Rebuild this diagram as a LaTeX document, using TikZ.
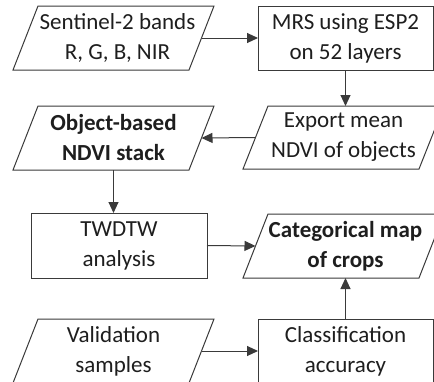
\documentclass[tikz,border=0pt]{standalone}
\usepackage{fontspec}
\setmainfont{Carlito}
\usetikzlibrary{arrows.meta,calc}
\definecolor{txt}{HTML}{1E1E1E}
\definecolor{ln}{HTML}{3A3A3A}
\tikzset{
  blk/.style={align=center, inner sep=0pt, outer sep=0pt, font=\fontsize{23}{30}\selectfont, text=txt},
  bblk/.style={font=\fontsize{23}{30}\selectfont\bfseries},
  rbox/.style={blk, draw=ln, line width=1pt},
  pgram/.style={blk},
  arr/.style={draw=ln, line width=1pt, -{Triangle[length=11pt,width=10pt]}},
  outl/.style={draw=ln, line width=1pt, line join=miter}
}
% outline of a parallelogram around node #2, whose text sits #1 pt right of the shape's centre
\newcommand\slantshape[2][0]{\draw[outl] ($(#2.north west)+(25-#1,0)$) -- ($(#2.north east)+(-#1,0)$) -- ($(#2.south east)+(-25-#1,0)$) -- ($(#2.south west)+(-#1,0)$) -- cycle;}
\begin{document}
\begin{tikzpicture}[x=1pt,y=-1pt]
\useasboundingbox (0,0) rectangle (434,381);
\clip (0,0) rectangle (434,381);
\fill[white] (0,0) rectangle (434,381);
% nodes
\node[pgram, minimum width=201, minimum height=64] (sent) at (117.5,38) {Sentinel-2 bands\\R, G, B, NIR};
\node[rbox, minimum width=175, minimum height=64] (mrs) at (345.5,38) {MRS using ESP2\\on 52 layers};
\node[pgram, minimum width=201, minimum height=63] (export) at (343.5,137.5) {Export mean\\NDVI of objects};
\node[pgram, bblk, minimum width=201, minimum height=64] (obj) at (113.5,138) {Object-based\\NDVI stack};
\node[rbox, minimum width=176, minimum height=65] (twdtw) at (119,245.5) {TWDTW\\analysis};
\node[pgram, bblk, minimum width=201, minimum height=64] (cat) at (345.5,246) {Categorical map\\of crops};
\node[pgram, minimum width=201, minimum height=64] (valid) at (113.5,351) {Validation\\samples};
\node[rbox, minimum width=175, minimum height=65] (class) at (345.5,351.5) {Classification\\accuracy};
% parallelogram outlines
\slantshape[4]{sent}
\slantshape{export}
\slantshape{obj}
\slantshape[2]{cat}
\slantshape{valid}
% connectors
\draw[arr] ($(sent.east)+(-16.5,0)$) -- (mrs.west |- sent.east);
\draw[arr] (mrs.south) -- (mrs.south |- export.north);
\draw[arr] ($(export.west)+(12.5,0)$) -- ($(obj.east)+(-12.5,0)$);
\draw[arr] (obj.south) -- (obj.south |- twdtw.north);
\draw[arr] (twdtw.east) -- ($(cat.west)+(10.5,0)$);
\draw[arr] (class.north) -- (class.north |- cat.south);
\draw[arr] ($(valid.east)+(-12.5,0)$) -- (class.west |- valid.east);
\end{tikzpicture}
\end{document}
